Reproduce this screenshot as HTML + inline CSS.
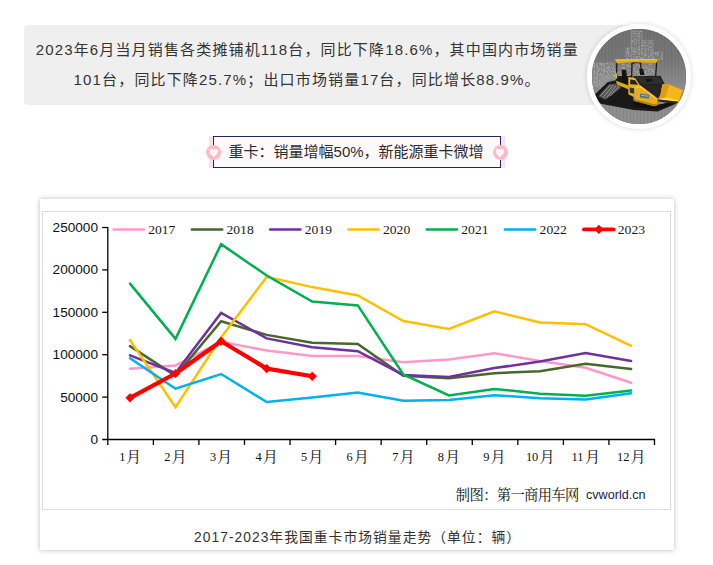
<!DOCTYPE html>
<html lang="zh-CN">
<head>
<meta charset="utf-8">
<title>2017-2023年我国重卡市场销量走势</title>
<style>
html,body{margin:0;padding:0;background:#fff;}
body{width:713px;height:565px;overflow:hidden;position:relative;font-family:"Liberation Sans",sans-serif;color:#333;}
.page{position:absolute;left:0;top:0;width:713px;height:565px;overflow:hidden;background:#fff;}
.sr{position:absolute;width:1px;height:1px;margin:-1px;padding:0;overflow:hidden;clip:rect(0 0 0 0);clip-path:inset(50%);white-space:nowrap;border:0;opacity:0;}
svg.ink{position:absolute;left:0;top:0;width:713px;height:565px;overflow:visible;pointer-events:none;}
.summary{position:absolute;left:24px;top:25px;width:616px;height:80px;background:#efefef;border-radius:4px;}
.avatar{position:absolute;left:586.9px;top:24.4px;width:94.4px;height:94.4px;border:5.2px solid #fff;border-radius:50%;box-shadow:0 0 5px rgba(0,0,0,.16);overflow:hidden;background:#727272;}
.avatar svg{position:absolute;left:0;top:0;width:94.4px;height:94.4px;}
.title{position:absolute;left:213px;top:136px;width:286px;height:30px;margin:0;border:1px solid #1f2a56;background:#fff9fb;}
.title:before,.title:after{content:"";position:absolute;top:-1px;width:4px;height:32px;background:#fde0e8;}
.title:before{left:-5px;}
.title:after{right:-5px;}
.dot{position:absolute;top:144.9px;width:15px;height:15px;border-radius:50%;background:#ffb8cd;}
.dot.l{left:206px;}
.dot.r{left:492.6px;}
.card{position:absolute;left:40px;top:199px;width:634px;height:351px;margin:0;background:#fff;box-shadow:0 0 5px rgba(0,0,0,.28);}
.chart{position:absolute;left:2px;top:12px;width:627px;height:297px;border:1px solid #dcdcdc;background:#fff;}
</style>
</head>
<body>
<div class="page">
  <section class="summary">
    <p class="sr">2023年6月当月销售各类摊铺机118台，同比下降18.6%，其中国内市场销量101台，同比下降25.7%；出口市场销量17台，同比增长88.9%。</p>
  </section>
  <svg class="ink" viewBox="0 0 713 565"><g fill="#333" font-family="'Liberation Sans','Noto Sans CJK SC',sans-serif" font-size="15"><text x="35.7" y="54.9" textLength="542" lengthAdjust="spacing">2023年6月当月销售各类摊铺机118台，同比下降18.6%，其中国内市场销量</text><text x="73.6" y="84.9" textLength="466" lengthAdjust="spacing">101台，同比下降25.7%；出口市场销量17台，同比增长88.9%。</text></g></svg>
  <div class="avatar"><svg viewBox="592.5 29.5 95 95" role="img" aria-label="摊铺机">
<defs>
<pattern id="stp" x="592.5" y="0" width="3.5" height="10" patternUnits="userSpaceOnUse"><rect width="3.5" height="10" fill="#6a6a6a"/><rect x="0.4" width="1.7" height="10" fill="#747474"/></pattern>
<pattern id="stg" x="593" y="0" width="3.5" height="10" patternUnits="userSpaceOnUse"><rect width="3.5" height="10" fill="#858585"/><rect x="0.4" width="1.7" height="10" fill="#929292"/></pattern>
<filter id="nz" x="0" y="0" width="100%" height="100%" color-interpolation-filters="sRGB"><feTurbulence type="fractalNoise" baseFrequency="0.75" numOctaves="2" seed="7" result="n"/><feColorMatrix in="n" type="matrix" values="0 0 0 0 0.82  0 0 0 0 0.82  0 0 0 0 0.82  0 0 0 3.2 -1.35" result="m"/><feComposite in="m" in2="SourceGraphic" operator="in"/></filter>
<linearGradient id="bgv" x1="0" y1="0" x2="0" y2="1"><stop offset="0" stop-color="#fff" stop-opacity="0"/><stop offset=".3" stop-color="#fff" stop-opacity=".04"/><stop offset=".62" stop-color="#fff" stop-opacity=".2"/><stop offset="1" stop-color="#fff" stop-opacity=".12"/></linearGradient>
</defs>
<rect x="592.5" y="29.5" width="95" height="95" fill="url(#stp)"/>
<rect x="592.5" y="29.5" width="95" height="95" fill="url(#bgv)"/>
<g transform="translate(592 29) scale(.16992)">
<!-- sketched buildings -->
<g filter="url(#nz)" fill="#fff" opacity=".5">
<path d="M235 15h65v55h65v70h55v45h-215v-70h30z"/>
<path d="M15 205h115v35h110v60h-90v45h-135z"/>
<path d="M150 205h240v85h-240z"/>
</g>
<g fill="none" stroke="#d6d6d6" stroke-width="3" opacity=".5">
<path d="M235 15h65v165M235 15v100h-30v70M300 70h65v110M365 140h55v45M15 345V205h115v35"/>
<path d="M250 25v150M267 25v150M284 25v150M318 80v100M335 80v100M352 80v100M218 120v60M35 215v125M57 215v125M79 215v125M101 215v125" stroke-width="2"/>
</g>
<!-- ground -->
</g>
<path d="M592.500 101.500L634.500 108.800L660 111L687.500 99.500V124.500H592.500Z" fill="url(#stg)"/>
<g transform="translate(592 29) scale(.16992)">
<!-- platform / tracks -->
<path d="M12 398L95 318L150 305L160 338L240 358L250 430L385 455L510 428L500 446L392 492L250 482L40 442Z" fill="#191919"/>
<path d="M250 430L385 455L505 430L496 444L390 478L250 462Z" fill="#101010"/>
<!-- steps -->
<path d="M40 402L105 330L165 325L175 352L82 422Z" fill="#555"/>
<path d="M52 400L112 334M70 408L130 334M90 410L148 336M112 400L164 340" stroke="#c4c4c4" stroke-width="3.500" fill="none"/>
<!-- cab interior -->
<path d="M150 282L240 282L240 360L150 335Z" fill="#1b1b1b"/>
<path d="M178 245h27l7 55l23 5v25h-50z" fill="#141414"/>
<path d="M283 240h22l10 35h-27z" fill="#141414"/>
<g stroke="#1a1a1a" stroke-width="8" fill="none" stroke-linecap="round">
<path d="M150 205L148 330"/>
<path d="M240 205L238 282"/>
<path d="M290 203Q292 240 302 268"/>
<path d="M385 200L380 290"/>
<path d="M243 206Q265 196 290 204"/>
</g>
<!-- roof -->
<path d="M140 184L388 181L392 192L382 204L250 200L150 206Z" fill="#e3a91b"/>
<path d="M141 183L387 180L389 187L143 191Z" fill="#f5c436"/>
<!-- hood -->
<path d="M240 283L409 280L433 329L420 331L409 390L398 409L387 412L291 339L262 300Z" fill="#1f1f1d"/>
<path d="M262 288L402 284L424 326L300 332Z" fill="#2e2e2a"/>
<path d="M318 300l36-3l10 16l-36 5z" fill="#151514"/>
<path d="M300 334L420 331L409 390L398 409L387 412Z" fill="#26241c"/>
<!-- yellow strip -->
<path d="M145 310L220 338L220 362L150 332Z" fill="#e2a81a"/>
<path d="M140 262l9 0l4 34l-9 1z" fill="#d6bd2a"/>
<!-- front frame -->
<path d="M218 286L261 295L283 337L291 339L256 345L254 407L218 390Z" fill="#eab11e"/>
<path d="M229 302L259 306L275 333L229 330Z" fill="#232321"/>
<path d="M226 350L252 354L252 386L227 380Z" fill="#30353a"/>
<!-- main panel -->
<path d="M256 345L291 339L387 412L390 455L371 460L256 429Z" fill="#e8ad1c"/>
<path d="M256 345L291 339L387 412L387 422L289 350L257 355Z" fill="#f8c83e"/>
<path d="M256 419L371 449L390 446L390 455L371 460L256 429Z" fill="#b07c10"/>
<path d="M288 385L342 393L340 416L286 408Z" fill="#4a70a8"/>
<path d="M294 392l42 6l-1 6l-42-6z" fill="#e8c64a" opacity=".8"/>
<!-- hopper -->
<path d="M420 331L452 328L542 366L516 434L398 420L409 390Z" fill="#f4b61b"/>
<path d="M420 331L452 328L460 337L438 409L398 420L409 390Z" fill="#de9c14"/>
<path d="M438 409L516 425L516 434L398 420Z" fill="#fbdc3c"/>
<path d="M398 420L516 434L495 447L393 431Z" fill="#2a2416"/>
</g>
</svg>
</div>
  <h2 class="title"><span class="sr">重卡：销量增幅50%，新能源重卡微增</span></h2>
  <span class="dot l"></span><span class="dot r"></span>
  <svg class="ink" viewBox="0 0 713 565">
    <g fill="#fff" stroke="#fff" stroke-width=".5" stroke-linejoin="round"><path d="M210.200 149.400h7.200v3.500l-3.600 4l-3.600-4z"/><path d="M496.200 149.400h7.200v3.500l-3.600 4l-3.600-4z"/></g><g fill="#ffdbe5"><path d="M213.800 151.600l1.300 1.500h-2.600z"/><path d="M499.800 151.600l1.300 1.500h-2.600z"/></g>
    <text x="228.6" y="157" font-family="'Liberation Sans','Noto Sans CJK SC',sans-serif" font-size="15" fill="#2b2b2b" textLength="255" lengthAdjust="spacing">重卡：销量增幅50%，新能源重卡微增</text>
  </svg>
  <figure class="card">
    <div class="chart"><span class="sr">2017 2018 2019 2020 2021 2022 2023 1月 2月 3月 4月 5月 6月 7月 8月 9月 10月 11月 12月 制图：第一商用车网 cvworld.cn</span></div>
    <figcaption class="sr">2017-2023年我国重卡市场销量走势（单位：辆）</figcaption>
  </figure>
  <svg class="ink" viewBox="0 0 713 565">
<g stroke="#000" stroke-width="1.3" fill="none">
<path d="M107.80 227.00V445.00"/>
<path d="M102.20 439.50H655.00"/>
<path d="M102.20 397.10H107.80"/>
<path d="M102.20 354.70H107.80"/>
<path d="M102.20 312.30H107.80"/>
<path d="M102.20 269.90H107.80"/>
<path d="M102.20 227.50H107.80"/>
<path d="M153.36 439.40V445.00"/>
<path d="M198.92 439.40V445.00"/>
<path d="M244.48 439.40V445.00"/>
<path d="M290.03 439.40V445.00"/>
<path d="M335.59 439.40V445.00"/>
<path d="M381.15 439.40V445.00"/>
<path d="M426.71 439.40V445.00"/>
<path d="M472.27 439.40V445.00"/>
<path d="M517.83 439.40V445.00"/>
<path d="M563.38 439.40V445.00"/>
<path d="M608.94 439.40V445.00"/>
<path d="M654.50 439.40V445.00"/>
</g>
<g font-family="'Liberation Sans', sans-serif" font-size="13.6" fill="#111" text-anchor="end">
<text x="98.0" y="443.9" textLength="7.56" lengthAdjust="spacingAndGlyphs">0</text>
<text x="98.0" y="401.5" textLength="37.82" lengthAdjust="spacingAndGlyphs">50000</text>
<text x="98.0" y="359.1" textLength="45.39" lengthAdjust="spacingAndGlyphs">100000</text>
<text x="98.0" y="316.7" textLength="45.39" lengthAdjust="spacingAndGlyphs">150000</text>
<text x="98.0" y="274.3" textLength="45.39" lengthAdjust="spacingAndGlyphs">200000</text>
<text x="98.0" y="231.9" textLength="45.39" lengthAdjust="spacingAndGlyphs">250000</text>
</g>
<polyline points="130.0,368.7 175.5,365.4 221.1,341.7 266.7,350.6 312.2,356.0 357.8,356.1 403.3,362.2 448.9,359.5 494.4,353.2 540.0,360.9 585.6,367.7 631.1,382.8" fill="none" stroke="#FF99CC" stroke-width="2.5" stroke-linejoin="miter" stroke-linecap="round"/>
<polyline points="130.0,346.1 175.5,375.8 221.1,321.3 266.7,334.9 312.2,342.8 357.8,343.9 403.3,375.7 448.9,378.2 494.4,373.2 540.0,371.2 585.6,363.7 631.1,369.1" fill="none" stroke="#47672B" stroke-width="2.5" stroke-linejoin="miter" stroke-linecap="round"/>
<polyline points="130.0,355.3 175.5,373.0 221.1,312.9 266.7,338.4 312.2,347.3 357.8,351.2 403.3,374.9 448.9,376.9 494.4,368.1 540.0,361.6 585.6,353.0 631.1,361.1" fill="none" stroke="#7030A0" stroke-width="2.5" stroke-linejoin="miter" stroke-linecap="round"/>
<polyline points="130.0,340.1 175.5,407.2 221.1,337.5 266.7,276.9 312.2,287.1 357.8,295.4 403.3,321.1 448.9,328.9 494.4,311.4 540.0,322.5 585.6,324.2 631.1,345.8" fill="none" stroke="#FFC000" stroke-width="2.5" stroke-linejoin="miter" stroke-linecap="round"/>
<polyline points="130.0,283.6 175.5,338.9 221.1,244.2 266.7,275.5 312.2,301.6 357.8,305.4 403.3,374.4 448.9,395.5 494.4,388.9 540.0,393.8 585.6,395.7 631.1,390.5" fill="none" stroke="#00B050" stroke-width="2.5" stroke-linejoin="miter" stroke-linecap="round"/>
<polyline points="130.0,358.2 175.5,388.7 221.1,374.0 266.7,402.0 312.2,397.4 357.8,392.4 403.3,400.8 448.9,399.9 494.4,395.2 540.0,398.2 585.6,399.6 631.1,393.3" fill="none" stroke="#00B0F0" stroke-width="2.5" stroke-linejoin="miter" stroke-linecap="round"/>
<polyline points="130.0,397.8 175.5,373.5 221.1,341.2 266.7,368.6 312.2,376.3" fill="none" stroke="#FF0000" stroke-width="4.2" stroke-linejoin="round" stroke-linecap="round"/>
<path d="M125.4 397.8L130.0 393.2L134.6 397.8L130.0 402.4Z" fill="#FF0000"/>
<path d="M170.9 373.5L175.5 368.9L180.1 373.5L175.5 378.1Z" fill="#FF0000"/>
<path d="M216.5 341.2L221.1 336.6L225.7 341.2L221.1 345.8Z" fill="#FF0000"/>
<path d="M262.1 368.6L266.7 364.0L271.3 368.6L266.7 373.2Z" fill="#FF0000"/>
<path d="M307.6 376.3L312.2 371.7L316.8 376.3L312.2 380.9Z" fill="#FF0000"/>
<path d="M113.6 229.4H143.9" stroke="#FF99CC" stroke-width="2.5" stroke-linecap="round"/>
<path d="M191.9 229.4H222.2" stroke="#47672B" stroke-width="2.5" stroke-linecap="round"/>
<path d="M270.1 229.4H300.4" stroke="#7030A0" stroke-width="2.5" stroke-linecap="round"/>
<path d="M348.4 229.4H378.7" stroke="#FFC000" stroke-width="2.5" stroke-linecap="round"/>
<path d="M426.7 229.4H457.0" stroke="#00B050" stroke-width="2.5" stroke-linecap="round"/>
<path d="M504.9 229.4H535.2" stroke="#00B0F0" stroke-width="2.5" stroke-linecap="round"/>
<path d="M584.0 229.4H613.5" stroke="#FF0000" stroke-width="3.9" stroke-linecap="round"/>
<path d="M594.3 229.4L598.9 224.8L603.5 229.4L598.9 234.0Z" fill="#FF0000"/>
<g fill="#1a1a1a" font-family="'Liberation Serif','Noto Serif CJK SC',serif" font-size="12.2">
<text x="148.2" y="233.5" textLength="27.2" lengthAdjust="spacingAndGlyphs">2017</text>
<text x="226.5" y="233.5" textLength="27.2" lengthAdjust="spacingAndGlyphs">2018</text>
<text x="304.8" y="233.5" textLength="27.2" lengthAdjust="spacingAndGlyphs">2019</text>
<text x="383.0" y="233.5" textLength="27.2" lengthAdjust="spacingAndGlyphs">2020</text>
<text x="461.3" y="233.5" textLength="27.2" lengthAdjust="spacingAndGlyphs">2021</text>
<text x="539.6" y="233.5" textLength="27.2" lengthAdjust="spacingAndGlyphs">2022</text>
<text x="617.8" y="233.5" textLength="27.2" lengthAdjust="spacingAndGlyphs">2023</text>
</g>
<g fill="#111" font-family="'Liberation Serif','Noto Serif CJK SC',serif">
<text><tspan x="119.3" y="461" font-size="12.4">1</tspan><tspan x="126.0" y="461.8" font-size="15.2">月</tspan></text>
<text><tspan x="164.3" y="461" font-size="12.4">2</tspan><tspan x="171.6" y="461.8" font-size="15.2">月</tspan></text>
<text><tspan x="209.9" y="461" font-size="12.4">3</tspan><tspan x="217.1" y="461.8" font-size="15.2">月</tspan></text>
<text><tspan x="255.4" y="461" font-size="12.4">4</tspan><tspan x="262.7" y="461.8" font-size="15.2">月</tspan></text>
<text><tspan x="301.0" y="461" font-size="12.4">5</tspan><tspan x="308.2" y="461.8" font-size="15.2">月</tspan></text>
<text><tspan x="346.5" y="461" font-size="12.4">6</tspan><tspan x="353.8" y="461.8" font-size="15.2">月</tspan></text>
<text><tspan x="392.2" y="461" font-size="12.4">7</tspan><tspan x="399.4" y="461.8" font-size="15.2">月</tspan></text>
<text><tspan x="437.7" y="461" font-size="12.4">8</tspan><tspan x="444.9" y="461.8" font-size="15.2">月</tspan></text>
<text><tspan x="483.2" y="461" font-size="12.4">9</tspan><tspan x="490.5" y="461.8" font-size="15.2">月</tspan></text>
<text><tspan x="525.9" y="461" font-size="12.4">10</tspan><tspan x="539.5" y="461.8" font-size="15.2">月</tspan></text>
<text><tspan x="571.5" y="461" font-size="12.4">11</tspan><tspan x="585.0" y="461.8" font-size="15.2">月</tspan></text>
<text><tspan x="617.1" y="461" font-size="12.4">12</tspan><tspan x="630.6" y="461.8" font-size="15.2">月</tspan></text>
</g>
<text x="455.8" y="499.8" font-family="'Liberation Serif','Noto Serif CJK SC',serif" font-size="14.3" fill="#111" textLength="123.6" lengthAdjust="spacing">制图：第一商用车网</text>
<text x="586" y="498.9" font-family="'Liberation Sans',sans-serif" font-size="12.9" fill="#1c2340" textLength="59.6" lengthAdjust="spacingAndGlyphs">cvworld.cn</text>
<text x="194.1" y="541.7" font-family="'Liberation Sans','Noto Sans CJK SC',sans-serif" font-size="13.8" fill="#333" textLength="326" lengthAdjust="spacing">2017-2023年我国重卡市场销量走势（单位：辆）</text>
  </svg>
</div>
</body>
</html>
